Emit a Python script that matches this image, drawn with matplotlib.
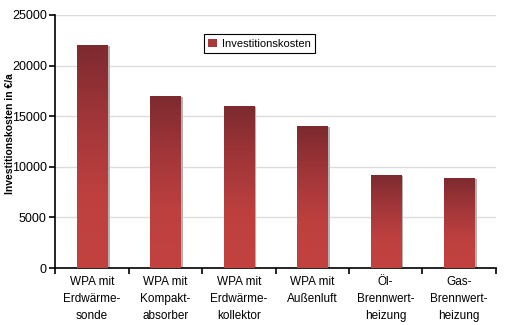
import numpy as np
import matplotlib.pyplot as plt
from matplotlib.colors import LinearSegmentedColormap
from matplotlib.patches import Rectangle

plt.rcParams['font.family'] = ['Liberation Sans', 'DejaVu Sans']

categories = ["WPA mit\nErdwärme-\nsonde", "WPA mit\nKompakt-\nabsorber",
              "WPA mit\nErdwärme-\nkollektor", "WPA mit\nAußenluft",
              "Öl-\nBrennwert-\nheizung", "Gas-\nBrennwert-\nheizung"]
kosten = [22000, 17000, 16000, 14000, 9200, 8900]

cmap = LinearSegmentedColormap.from_list("rot", ["#c24240", "#bd403f", "#a13639", "#7c2a2f"])

fig = plt.figure(figsize=(5.06, 3.25), dpi=100)
ax = fig.add_axes([0.109, 0.175, 0.871, 0.779])

x = np.arange(len(categories))
width = 0.41
grad = np.linspace(0, 1, 256).reshape(-1, 1)
for xi, val in zip(x, kosten):
    # grey drop shadow to the right
    ax.add_patch(Rectangle((xi - width / 2 + 0.035, 0), width, val - 80,
                           facecolor="#b8b0b0", edgecolor="none", zorder=2))
    bar = ax.bar(xi, val, width, color="none", zorder=3)[0]
    im = ax.imshow(grad, cmap=cmap, origin="lower", aspect="auto",
                   extent=[xi - width / 2, xi + width / 2, 0, val], zorder=3)
    im.set_clip_path(bar)

ax.set_xlim(-0.5, len(categories) - 0.5)
ax.set_ylim(0, 25000)
ax.set_yticks(range(0, 25001, 5000))
ax.yaxis.grid(True, color="#dcdcdc", linewidth=1)
ax.set_axisbelow(True)

ax.set_xticks(x)
ax.set_xticklabels(categories, fontsize=8.5, linespacing=1.55)
ax.tick_params(axis="x", length=0, pad=6)
ax.set_xticks(np.arange(-0.5, len(categories)), minor=True)
ax.tick_params(axis="x", which="minor", length=4, width=1.2, direction="out")
ax.tick_params(axis="y", labelsize=9, length=4, width=1.2, pad=2)

for s in ["top", "right"]:
    ax.spines[s].set_visible(False)
ax.spines["left"].set_linewidth(1.2)
ax.spines["bottom"].set_linewidth(1.2)

fig.text(0.019, 0.59, "Investitionskosten in €/a", rotation=90, fontsize=7.5,
         fontweight="bold", ha="center", va="center")

handle = Rectangle((0, 0), 1, 1, facecolor="#a83a3b", edgecolor="none")
leg = ax.legend([handle], ["Investitionskosten"], loc="upper left",
                bbox_to_anchor=(0.325, 0.945), fontsize=8, fancybox=False,
                framealpha=1, edgecolor="black", handlelength=0.8,
                handleheight=0.8, handletextpad=0.4, borderpad=0.4)
leg.get_frame().set_linewidth(0.8)

fig.savefig("out.png", dpi=100)
